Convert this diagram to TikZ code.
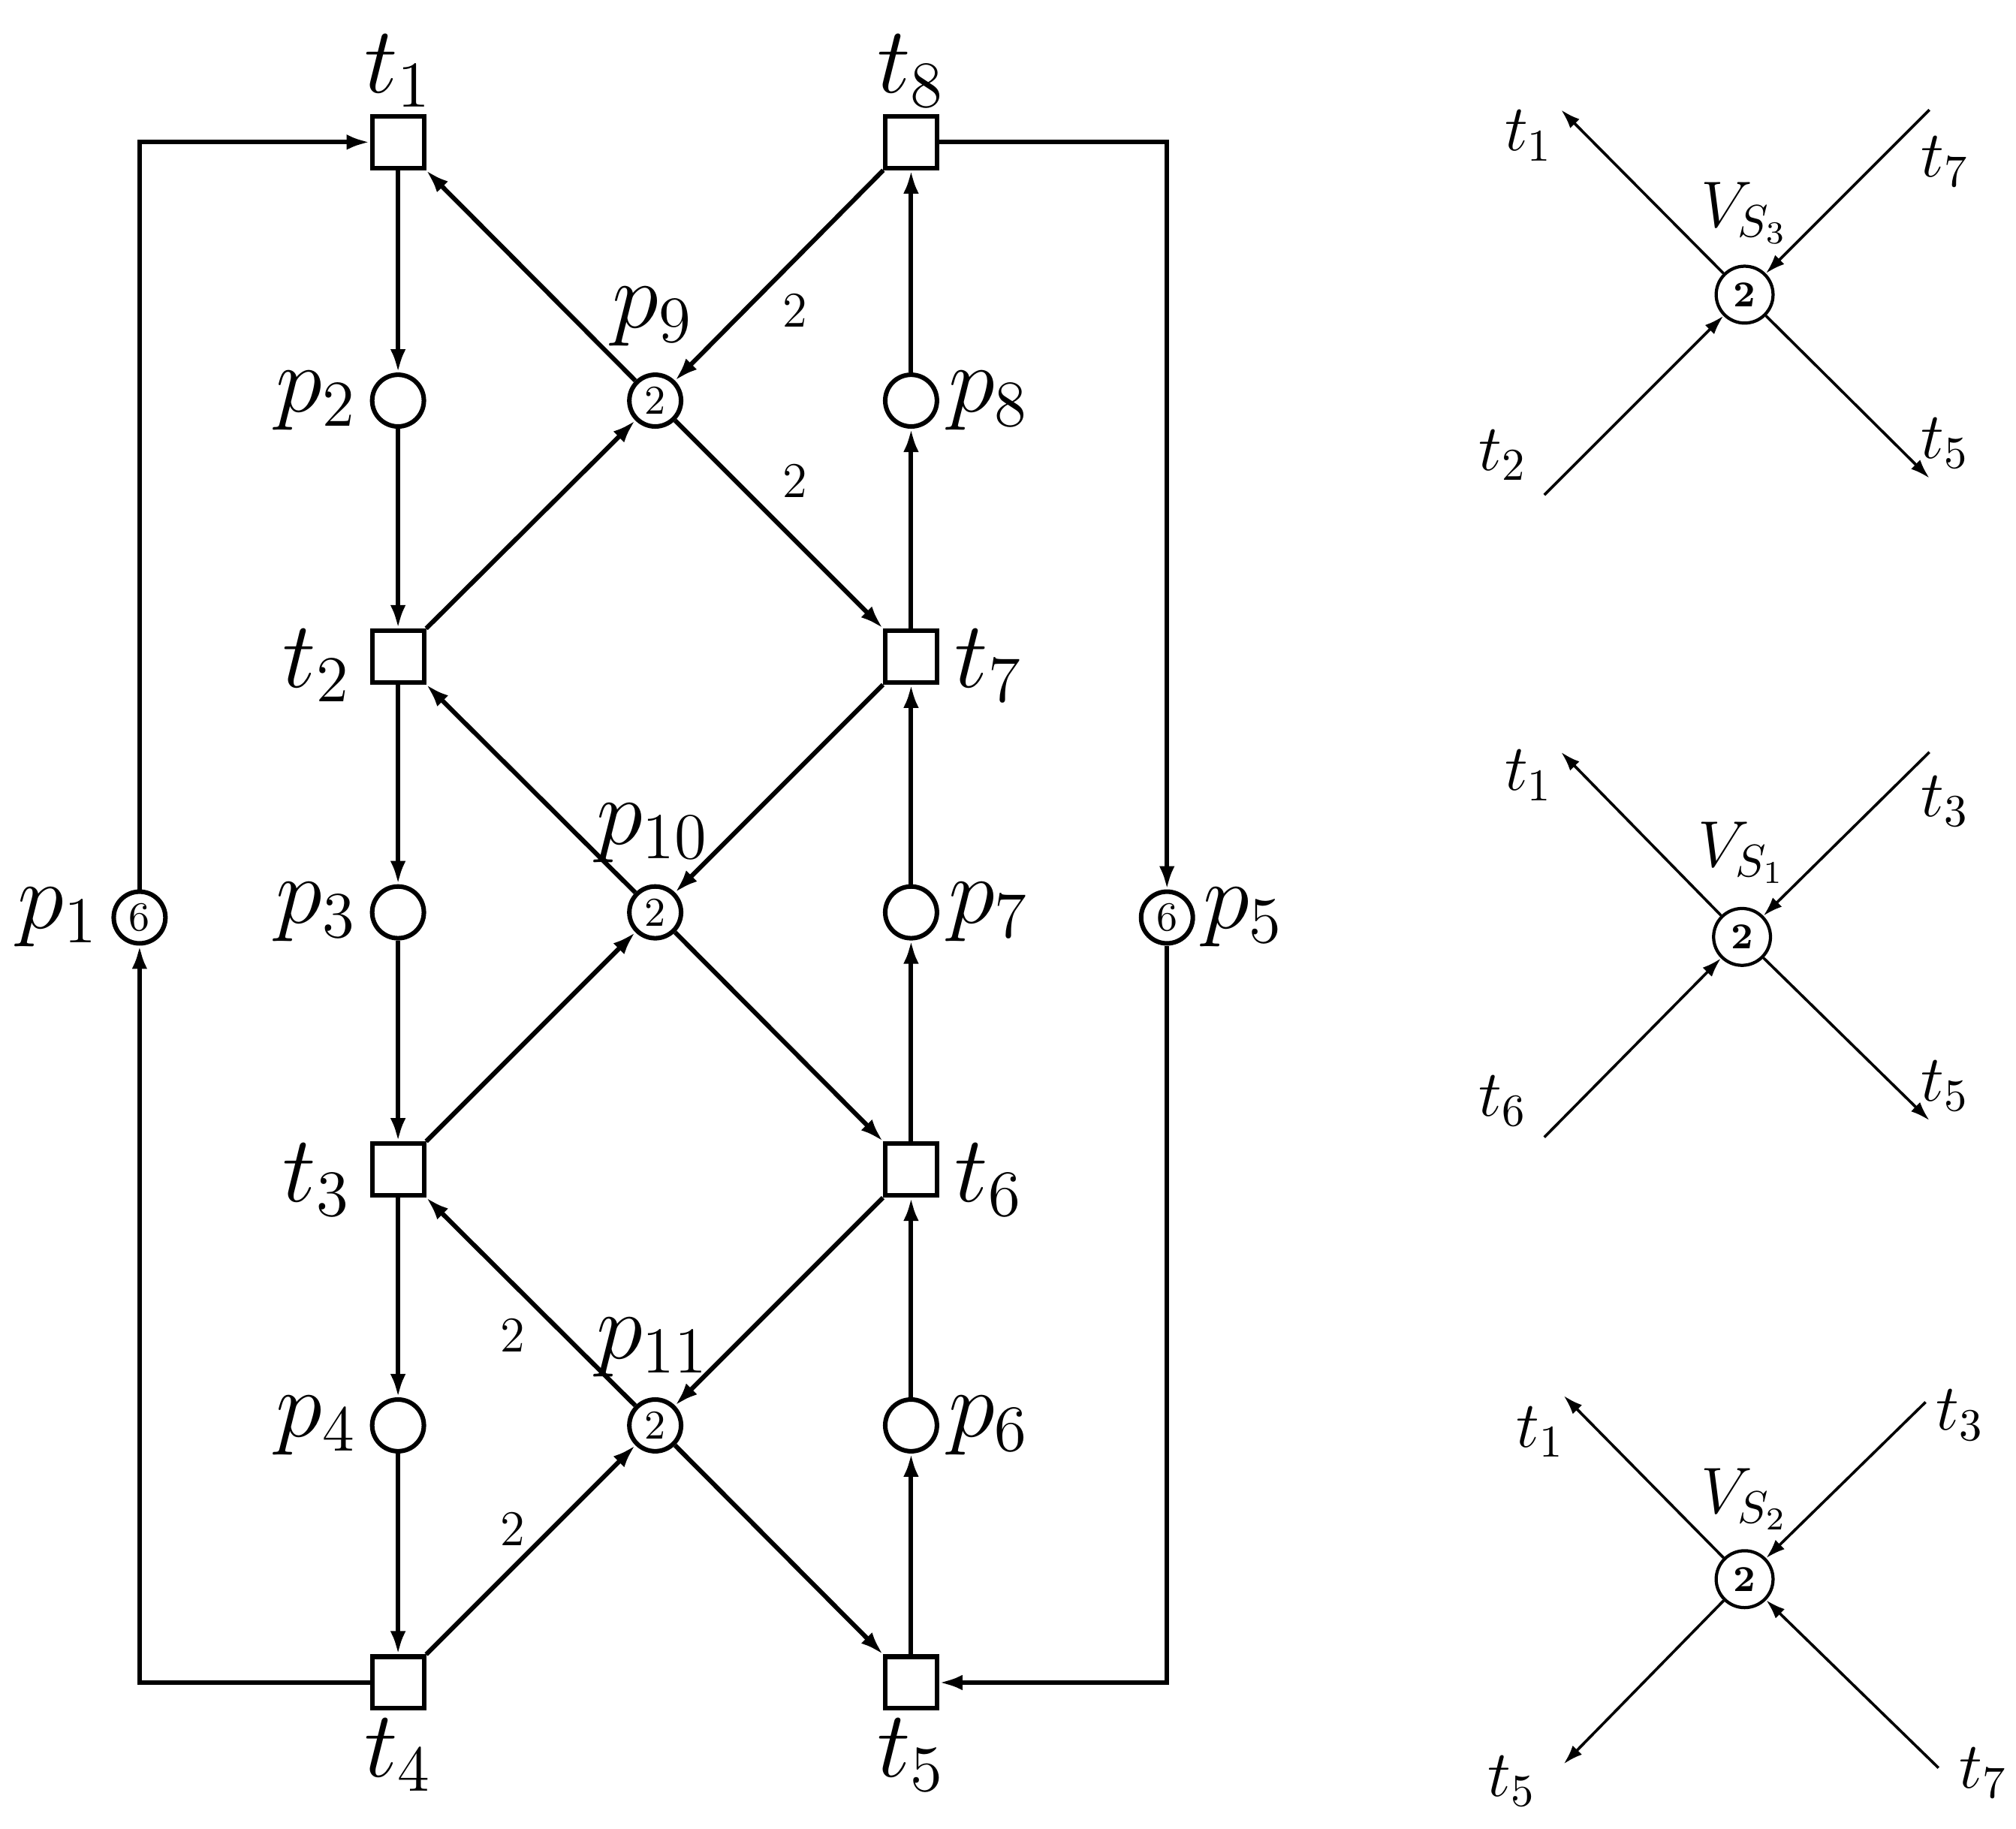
\documentclass[tikz,border=0pt]{standalone}
\usetikzlibrary{arrows.meta}
\begin{document}
\begin{tikzpicture}[x=0.01cm,y=-0.01cm,
  pl/.style={circle,draw,line width=1pt,minimum size=0.4cm,inner sep=0pt,font=\fontsize{9}{10}\selectfont},
  tr/.style={rectangle,draw,line width=1pt,minimum size=0.4cm,inner sep=0pt},
  arc/.style={line width=1pt,-{Latex[length=1.8mm,width=1.2mm]}},
  lbl/.style={font=\fontsize{20}{24}\selectfont},
  wt/.style={font=\fontsize{11}{13}\selectfont},
  vp/.style={circle,draw,line width=0.7pt,minimum size=0.44cm,inner sep=0pt,font=\fontsize{8}{9}\selectfont\bfseries},
  va/.style={line width=0.6pt,-{Latex[length=1.5mm,width=1mm]}},
  vl/.style={font=\fontsize{14}{16}\selectfont}]
\useasboundingbox (0,0) rectangle (1560,1415);
% nodes
\node[tr] (t1) at (308,110) {};
\node[tr] (t2) at (308,508) {};
\node[tr] (t3) at (308,905) {};
\node[tr] (t4) at (308,1302) {};
\node[tr] (t8) at (705,110) {};
\node[tr] (t7) at (705,508) {};
\node[tr] (t6) at (705,905) {};
\node[tr] (t5) at (705,1302) {};
\node[pl] (p2) at (308,310) {};
\node[pl] (p3) at (308,706) {};
\node[pl] (p4) at (308,1103) {};
\node[pl] (p8) at (705,310) {};
\node[pl] (p7) at (705,706) {};
\node[pl] (p6) at (705,1103) {};
\node[pl] (p9) at (507,310) {2};
\node[pl] (p10) at (507,706) {2};
\node[pl] (p11) at (507,1103) {2};
\node[pl] (p1) at (108,710) {6};
\node[pl] (p5) at (903,710) {6};
% labels
\node[lbl] (lt1) at (308,55) {$t_1$};
\node[lbl] (lt8) at (705,55) {$t_8$};
\node[lbl] (lt2) at (245,515) {$t_2$};
\node[lbl] (lt7) at (765,515) {$t_7$};
\node[lbl] (lt3) at (245,913) {$t_3$};
\node[lbl] (lt6) at (765,913) {$t_6$};
\node[lbl] (lt4) at (308,1358) {$t_4$};
\node[lbl] (lt5) at (705,1358) {$t_5$};
\node[lbl] (lp2) at (245,310) {$p_2$};
\node[lbl] (lp3) at (245,706) {$p_3$};
\node[lbl] (lp4) at (245,1103) {$p_4$};
\node[lbl] (lp8) at (765,310) {$p_8$};
\node[lbl] (lp7) at (765,706) {$p_7$};
\node[lbl] (lp6) at (765,1103) {$p_6$};
\node[lbl] (lp9) at (505,245) {$p_9$};
\node[lbl] (lp10) at (505,645) {$p_{10}$};
\node[lbl] (lp11) at (505,1043) {$p_{11}$};
\node[lbl] (lp1) at (45,710) {$p_1$};
\node[lbl] (lp5) at (962,710) {$p_5$};
\node[wt] (w1) at (615,240) {2};
\node[wt] (w2) at (615,372) {2};
\node[wt] (w3) at (397,1033) {2};
\node[wt] (w4) at (397,1183) {2};
% arcs
\draw[arc] (t1) -- (p2);
\draw[arc] (p2) -- (t2);
\draw[arc] (t2) -- (p3);
\draw[arc] (p3) -- (t3);
\draw[arc] (t3) -- (p4);
\draw[arc] (p4) -- (t4);
\draw[arc] (t5) -- (p6);
\draw[arc] (p6) -- (t6);
\draw[arc] (t6) -- (p7);
\draw[arc] (p7) -- (t7);
\draw[arc] (t7) -- (p8);
\draw[arc] (p8) -- (t8);
\draw[arc] (t4.west) -| (p1);
\draw[arc] (p1) |- (t1.west);
\draw[arc] (t8.east) -| (p5);
\draw[arc] (p5) |- (t5.east);
\draw[arc] (p9) -- (t1);
\draw[arc] (t8) -- (p9);
\draw[arc] (t2) -- (p9);
\draw[arc] (p9) -- (t7);
\draw[arc] (p10) -- (t2);
\draw[arc] (t7) -- (p10);
\draw[arc] (t3) -- (p10);
\draw[arc] (p10) -- (t6);
\draw[arc] (p11) -- (t3);
\draw[arc] (t6) -- (p11);
\draw[arc] (t4) -- (p11);
\draw[arc] (p11) -- (t5);
% right: VS3
\node[vp] (v3) at (1350,228) {2};
\coordinate (a1) at (1208,85); \coordinate (a2) at (1493,85);
\coordinate (a3) at (1195,383); \coordinate (a4) at (1493,370);
\draw[va] (v3) -- (a1); \draw[va] (a2) -- (v3); \draw[va] (a3) -- (v3); \draw[va] (v3) -- (a4);
\node[vl] (v3l) at (1350,165) {$V_{S_3}$};
\node[vl] (b1) at (1183,105) {$t_1$}; \node[vl] (b2) at (1505,125) {$t_7$};
\node[vl] (b3) at (1163,352) {$t_2$}; \node[vl] (b4) at (1505,343) {$t_5$};
% VS1
\node[vp] (v1) at (1348,725) {2};
\coordinate (c1) at (1208,582); \coordinate (c2) at (1493,582);
\coordinate (c3) at (1195,880); \coordinate (c4) at (1493,867);
\draw[va] (v1) -- (c1); \draw[va] (c2) -- (v1); \draw[va] (c3) -- (v1); \draw[va] (v1) -- (c4);
\node[vl] (v1l) at (1348,660) {$V_{S_1}$};
\node[vl] (d1) at (1183,600) {$t_1$}; \node[vl] (d2) at (1505,620) {$t_3$};
\node[vl] (d3) at (1163,852) {$t_6$}; \node[vl] (d4) at (1505,840) {$t_5$};
% VS2
\node[vp] (v2) at (1350,1222) {2};
\coordinate (e1) at (1210,1080); \coordinate (e2) at (1490,1085);
\coordinate (e3) at (1210,1365); \coordinate (e4) at (1500,1368);
\draw[va] (v2) -- (e1); \draw[va] (e2) -- (v2); \draw[va] (v2) -- (e3); \draw[va] (e4) -- (v2);
\node[vl] (v2l) at (1350,1160) {$V_{S_2}$};
\node[vl] (f1) at (1192,1108) {$t_1$}; \node[vl] (f2) at (1517,1095) {$t_3$};
\node[vl] (f3) at (1170,1378) {$t_5$}; \node[vl] (f4) at (1535,1372) {$t_7$};
\end{tikzpicture}
\end{document}
